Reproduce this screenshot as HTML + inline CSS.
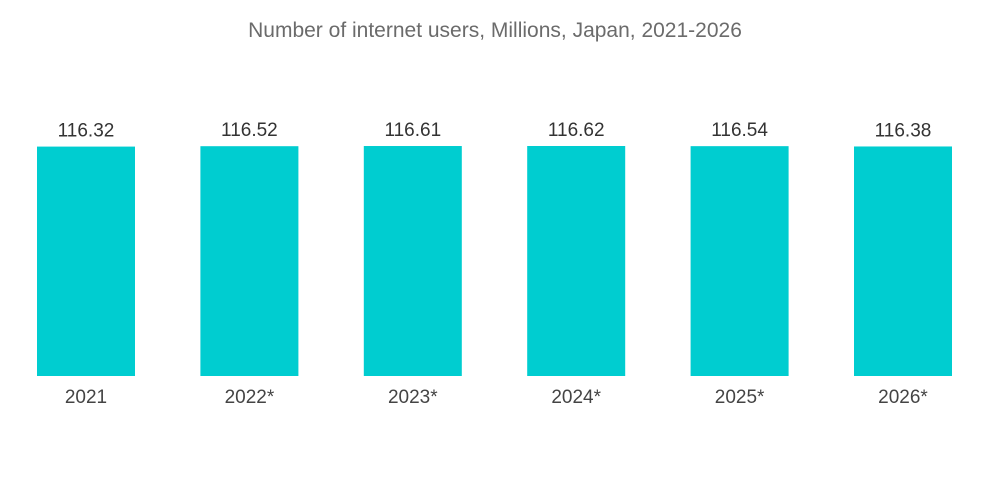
<!DOCTYPE html>
<html><head><meta charset="utf-8"><style>
html,body{margin:0;padding:0;background:#fff;width:1000px;height:504px;overflow:hidden;font-family:"Liberation Sans",sans-serif;}
</style></head><body>
<svg id="chart" width="1000" height="504" xmlns="http://www.w3.org/2000/svg">
<text x="495" y="37" text-anchor="middle" font-size="21" fill="#6b6b6b" font-family="Liberation Sans, sans-serif">Number of internet users, Millions, Japan, 2021-2026</text>
<g id="bars"></g>
</svg>
<script>
const categories = ["2021","2022*","2023*","2024*","2025*","2026*"];
const values = [116.32,116.52,116.61,116.62,116.54,116.38];
const valueLabels = ["116.32","116.52","116.61","116.62","116.54","116.38"];

const svgNS = "http://www.w3.org/2000/svg";
const g = document.getElementById('bars');
const baseY = 376, plotH = 230, maxV = 116.62;
const x0 = 37, step = 163.4, bw = 98;
function yScale(v){ return baseY - v / maxV * plotH; }
function xScale(i){ return x0 + i * step; }
categories.forEach((c, i) => {
  const x = xScale(i), y = yScale(values[i]);
  const r = document.createElementNS(svgNS, 'rect');
  
  
  r.setAttribute('x', x); r.setAttribute('y', y);
  r.setAttribute('width', bw); r.setAttribute('height', baseY - y);
  r.setAttribute('fill', '#00cdd0');
  g.appendChild(r);
  const t = document.createElementNS(svgNS, 'text');
  
  
  t.setAttribute('x', x + bw / 2); t.setAttribute('y', y - 10);
  t.setAttribute('text-anchor', 'middle'); t.setAttribute('font-size', '19');
  t.setAttribute('fill', '#333');
  t.textContent = valueLabels[i];
  g.appendChild(t);
  const l = document.createElementNS(svgNS, 'text');
  
  
  l.setAttribute('x', x + bw / 2); l.setAttribute('y', 403);
  l.setAttribute('text-anchor', 'middle'); l.setAttribute('font-size', '19');
  l.setAttribute('fill', '#444');
  l.textContent = c;
  g.appendChild(l);
});
</script>
</body></html>
